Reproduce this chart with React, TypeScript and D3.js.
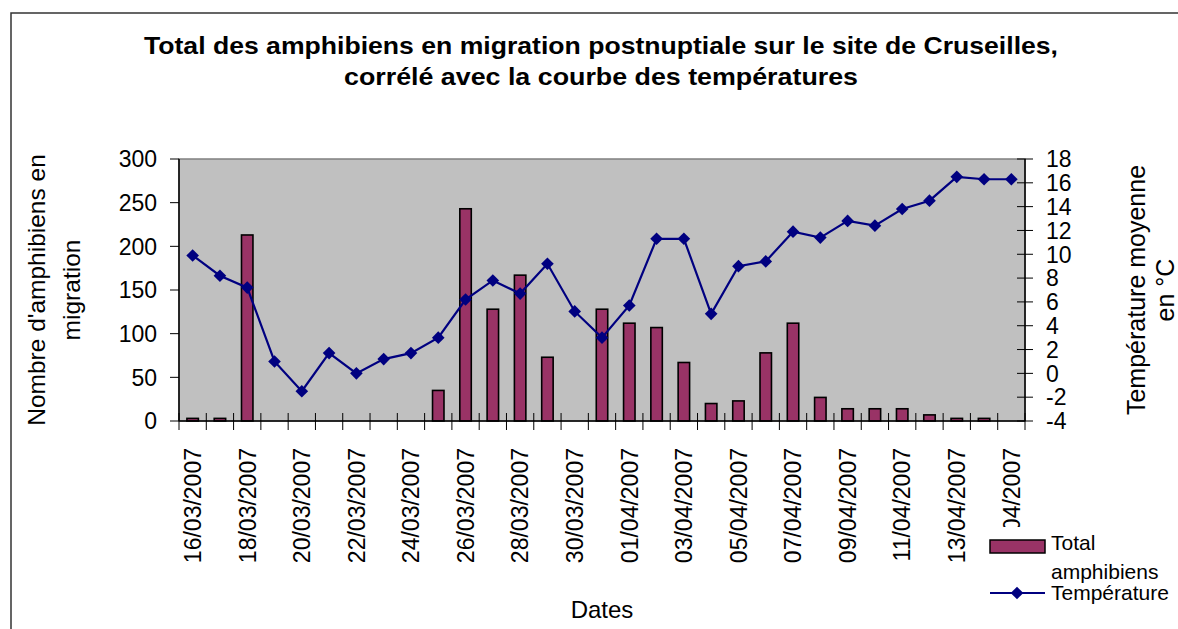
import React from "react";
import * as d3 from "d3";

const dates = [
  "16/03/2007", "17/03/2007", "18/03/2007", "19/03/2007", "20/03/2007", "21/03/2007",
  "22/03/2007", "23/03/2007", "24/03/2007", "25/03/2007", "26/03/2007", "27/03/2007",
  "28/03/2007", "29/03/2007", "30/03/2007", "31/03/2007", "01/04/2007", "02/04/2007",
  "03/04/2007", "04/04/2007", "05/04/2007", "06/04/2007", "07/04/2007", "08/04/2007",
  "09/04/2007", "10/04/2007", "11/04/2007", "12/04/2007", "13/04/2007", "14/04/2007",
  "15/04/2007",
];

const amphibiens = [
  3, 3, 213, 0, 0, 0, 0, 0, 0, 35, 243, 128, 167, 73, 0, 128, 112, 107, 67, 20, 23, 78,
  112, 27, 14, 14, 14, 7, 3, 3, 0,
];

const temperatures = [
  9.9, 8.2, 7.2, 1.0, -1.5, 1.7, 0.0, 1.2, 1.7, 3.0, 6.2, 7.8, 6.7, 9.2, 5.2, 3.0, 5.7,
  11.3, 11.3, 5.0, 9.0, 9.4, 11.9, 11.4, 12.8, 12.4, 13.8, 14.5, 16.5, 16.3, 16.3,
];

const leftTicks = [0, 50, 100, 150, 200, 250, 300];
const rightTicks = [-4, -2, 0, 2, 4, 6, 8, 10, 12, 14, 16, 18];

const FONT = "'Liberation Sans', Arial, sans-serif";

const App: React.FC = () => {
  const width = 1178;
  const height = 629;
  const plot = { left: 179, right: 1025, top: 159, bottom: 421 };

  const x = d3
    .scaleBand<string>()
    .domain(dates)
    .range([plot.left, plot.right])
    .padding(0);
  const yLeft = d3.scaleLinear().domain([0, 300]).range([plot.bottom, plot.top]);
  const yRight = d3.scaleLinear().domain([-4, 18]).range([plot.bottom, plot.top]);

  const bw = x.bandwidth();
  const barW = bw * 0.42;
  const cx = (d: string) => (x(d) ?? 0) + bw / 2;

  const line = d3
    .line<number>()
    .x((_, i) => cx(dates[i]))
    .y((t) => yRight(t));

  const diamond = d3.symbol().type(d3.symbolSquare).size(80)() || "";

  return (
    <svg
      width={width}
      height={height}
      style={{ position: "absolute", left: 0, top: 0, background: "white" }}
      fontFamily={FONT}
    >
      {/* chart frame: only left and top edges are inside the picture */}
      <path d={`M11,${height} V13 H${width}`} fill="none" stroke="#333" strokeWidth={1.5} />

      {/* title */}
      <text x={601} y={54} textAnchor="middle" fontSize={24} fontWeight="bold" textLength={914} lengthAdjust="spacingAndGlyphs">
        Total des amphibiens en migration postnuptiale sur le site de Cruseilles,
      </text>
      <text x={601} y={85} textAnchor="middle" fontSize={24} fontWeight="bold" textLength={514} lengthAdjust="spacingAndGlyphs">
        corrélé avec la courbe des températures
      </text>

      {/* plot area */}
      <rect
        x={plot.left}
        y={plot.top}
        width={plot.right - plot.left}
        height={plot.bottom - plot.top}
        fill="#C0C0C0"
        stroke="#808080"
        strokeWidth={1.5}
      />

      {/* bars */}
      {amphibiens.map((v, i) =>
        v > 0 ? (
          <rect
            key={"b" + i}
            x={cx(dates[i]) - barW / 2}
            y={yLeft(v)}
            width={barW}
            height={yLeft(0) - yLeft(v)}
            fill="#993366"
            stroke="#000"
            strokeWidth={1.6}
          />
        ) : null
      )}

      {/* temperature line */}
      <path d={line(temperatures) || ""} fill="none" stroke="#000080" strokeWidth={2.2} />
      {temperatures.map((t, i) => (
        <path
          key={"m" + i}
          d={diamond}
          transform={`translate(${cx(dates[i])},${yRight(t)}) rotate(45)`}
          fill="#000080"
        />
      ))}

      {/* axes lines */}
      <line x1={plot.left} x2={plot.left} y1={plot.top} y2={plot.bottom} stroke="#000" strokeWidth={1.5} />
      <line x1={plot.right} x2={plot.right} y1={plot.top} y2={plot.bottom} stroke="#000" strokeWidth={1.5} />
      <line x1={plot.left} x2={plot.right} y1={plot.bottom} y2={plot.bottom} stroke="#000" strokeWidth={1.5} />

      {/* left axis */}
      {leftTicks.map((t) => (
        <g key={"l" + t} transform={`translate(0,${yLeft(t)})`}>
          <line x1={plot.left - 9} x2={plot.left} stroke="#000" strokeWidth={1} />
          <text x={157} dy="0.36em" textAnchor="end" fontSize={23}>
            {t}
          </text>
        </g>
      ))}

      {/* right axis */}
      {rightTicks.map((t) => (
        <g key={"r" + t} transform={`translate(0,${yRight(t)})`}>
          <line x1={plot.right - 8} x2={plot.right + 8} stroke="#000" strokeWidth={1} />
          <text x={1046} dy="0.36em" textAnchor="start" fontSize={23}>
            {t}
          </text>
        </g>
      ))}

      {/* x axis ticks at category boundaries */}
      {d3.range(dates.length + 1).map((i) => (
        <line
          key={"xt" + i}
          x1={plot.left + i * bw}
          x2={plot.left + i * bw}
          y1={plot.bottom - 8}
          y2={plot.bottom + 9}
          stroke="#000"
          strokeWidth={1}
        />
      ))}
      {dates.map((d, i) =>
        i % 2 === 0 ? (
          <text
            key={"xl" + i}
            transform={`translate(${cx(d)},448) rotate(-90)`}
            textAnchor="end"
            dy="0.36em"
            fontSize={23}
          >
            {d}
          </text>
        ) : null
      )}

      {/* axis titles */}
      <g transform={`translate(45,${(plot.top + plot.bottom) / 2}) rotate(-90)`}>
        <text textAnchor="middle" fontSize={24.5}>Nombre d'amphibiens en</text>
        <text y={35} textAnchor="middle" fontSize={24.5}>migration</text>
      </g>
      <g transform={`translate(1145,${(plot.top + plot.bottom) / 2}) rotate(-90)`}>
        <text textAnchor="middle" fontSize={25}>Température moyenne</text>
        <text y={29} textAnchor="middle" fontSize={25}>en °C</text>
      </g>
      <text x={602} y={618} textAnchor="middle" fontSize={24}>
        Dates
      </text>

      {/* legend */}
      <rect x={985} y={527} width={200} height={110} fill="white" />
      <rect x={990} y={540} width={55} height={13} fill="#993366" stroke="#000" strokeWidth={1.5} />
      <text x={1051} y={550} fontSize={21}>Total</text>
      <text x={1051} y={579} fontSize={21}>amphibiens</text>
      <line x1={990} x2={1045} y1={593} y2={593} stroke="#000080" strokeWidth={2} />
      <path d={diamond} transform="translate(1017,593) rotate(45)" fill="#000080" />
      <text x={1051} y={600} fontSize={21}>Température</text>
    </svg>
  );
};

export default App;
